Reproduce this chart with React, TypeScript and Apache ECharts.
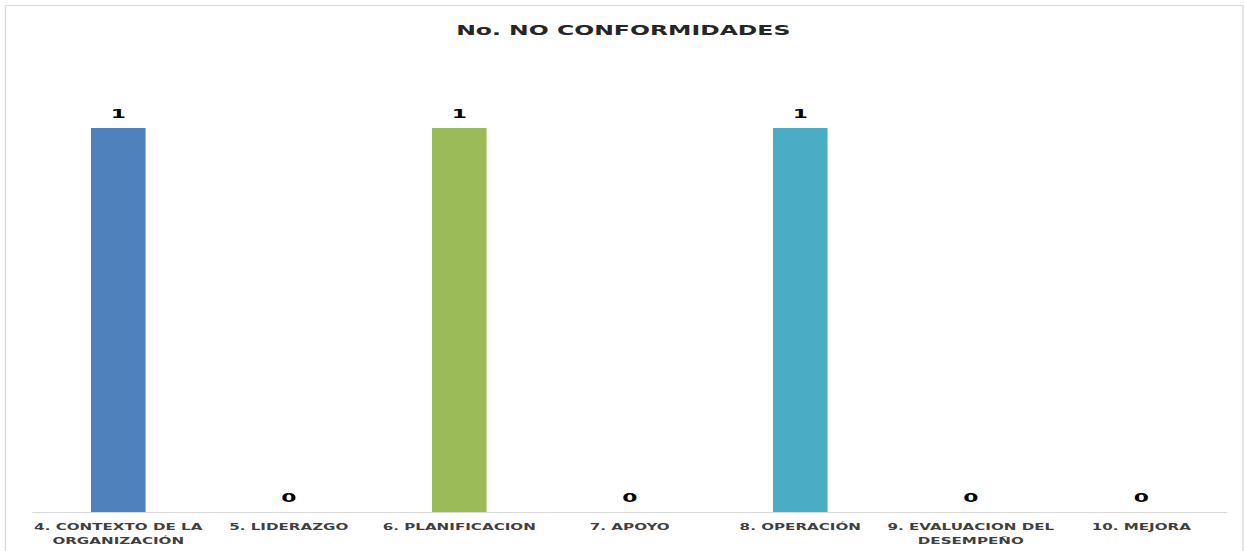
import React, { useEffect, useRef } from "react";
import * as echarts from "echarts";

const categories = [
  "4. CONTEXTO DE LA\nORGANIZACIÓN",
  "5. LIDERAZGO",
  "6. PLANIFICACION",
  "7. APOYO",
  "8. OPERACIÓN",
  "9. EVALUACION DEL\nDESEMPEÑO",
  "10. MEJORA",
];
const values = [1, 0, 1, 0, 1, 0, 0];
const barColors = ["#4f81bd", "#4f81bd", "#9bbb59", "#9bbb59", "#4bacc6", "#4bacc6", "#4bacc6"];
const titleText = "No. NO CONFORMIDADES";

// the reference picture is stretched horizontally; reproduce it with a CSS scale
const STRETCH = 1.68;
const PAGE_W = 1246;
const PAGE_H = 551;

export default function App() {
  const ref = useRef<HTMLDivElement>(null);
  useEffect(() => {
    document.body.style.margin = "0";
    document.body.style.overflow = "hidden";
    const chart = echarts.init(ref.current!, null, { renderer: "svg" });
    const W = PAGE_W / STRETCH;
    chart.setOption({
      animation: false,
      backgroundColor: "#ffffff",
      title: {
        text: titleText,
        left: "center",
        top: 18,
        textStyle: {
          fontFamily: "DejaVu Sans",
          fontWeight: "bold",
          fontSize: 14,
          color: "#262626",
        },
      },
      graphic: [
        {
          type: "rect",
          shape: { x: 5.5 / STRETCH, y: 5.5, width: (1243 - 5.5) / STRETCH, height: 560 },
          style: { fill: "none", stroke: "#d9d9d9", lineWidth: 0.8 },
          silent: true,
        },
      ],
      grid: { left: 33 / STRETCH, right: 20 / STRETCH, top: 128, bottom: 39, containLabel: false },
      xAxis: {
        type: "category",
        data: categories,
        axisLine: { show: true, lineStyle: { color: "#d9d9d9", width: 1 } },
        axisTick: { show: false },
        axisLabel: {
          interval: 0,
          margin: 8,
          fontFamily: "DejaVu Sans",
          fontWeight: "bold",
          fontSize: 9,
          lineHeight: 14,
          color: "#404040",
        },
      },
      yAxis: {
        type: "value",
        min: 0,
        max: 1,
        show: false,
        splitLine: { show: false },
      },
      series: [
        {
          type: "bar",
          barWidth: "32%",
          data: values.map((v, i) => ({ value: v, itemStyle: { color: barColors[i] } })),
          label: {
            show: true,
            position: "top",
            distance: 8,
            fontFamily: "DejaVu Sans",
            fontWeight: "bold",
            fontSize: 13,
            color: "#000000",
          },
        },
      ],
    });
    void W;
    return () => chart.dispose();
  }, []);
  return (
    <div
      ref={ref}
      style={{
        width: PAGE_W / STRETCH,
        height: PAGE_H,
        transform: `scaleX(${STRETCH})`,
        transformOrigin: "0 0",
      }}
    />
  );
}
